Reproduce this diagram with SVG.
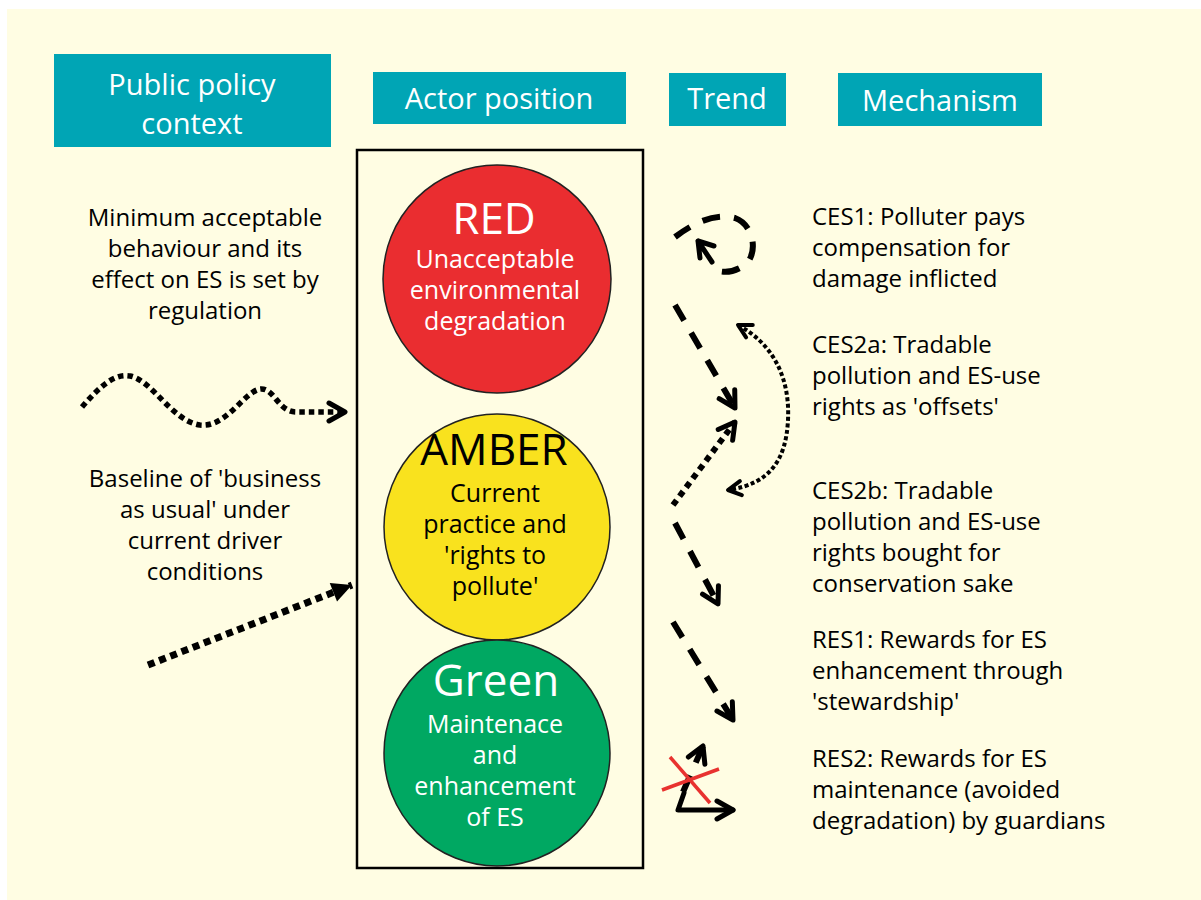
<svg xmlns="http://www.w3.org/2000/svg" width="1201" height="900" viewBox="0 0 1201 900">
<style>
.hdr{fill:#00A5B5}
.ht{font-family:"Open Sans","Liberation Sans",sans-serif;font-size:29px;fill:#fff;text-anchor:middle}
.t{font-family:"Open Sans","Liberation Sans",sans-serif;font-size:24px;fill:#000}
.ct{font-family:"Open Sans","Liberation Sans",sans-serif;font-size:25px;fill:#000;text-anchor:middle}
.c{text-anchor:middle}
.big{font-family:"Open Sans","Liberation Sans",sans-serif;font-size:44px;text-anchor:middle}
.w{fill:#fff}
.circ{stroke:#222;stroke-width:1.5}
.dot{fill:none;stroke:#000;stroke-linecap:butt}
.dash{fill:none;stroke:#000;stroke-width:6;stroke-dasharray:18 14}
.solid{fill:none;stroke:#000;stroke-width:5;stroke-linecap:round;stroke-linejoin:round}
.x{stroke:#E8322F;stroke-width:3.5}
</style>
<defs>
<marker id="chev" viewBox="0 0 24 24" refX="21" refY="12" markerWidth="24" markerHeight="24" markerUnits="userSpaceOnUse" orient="auto">
<path d="M5,3 L21,12 L5,21" fill="none" stroke="#000" stroke-width="5" stroke-linecap="round" stroke-linejoin="round"/>
</marker>
<marker id="chevs" viewBox="0 0 20 20" refX="17" refY="10" markerWidth="20" markerHeight="20" markerUnits="userSpaceOnUse" orient="auto-start-reverse">
<path d="M4,3 L17,10 L4,17" fill="none" stroke="#000" stroke-width="4" stroke-linecap="round" stroke-linejoin="round"/>
</marker>
<marker id="tri" viewBox="0 0 24 24" refX="22" refY="12" markerWidth="24" markerHeight="24" markerUnits="userSpaceOnUse" orient="auto">
<path d="M2,2 L22,12 L2,22 Z" fill="#000"/>
</marker>
</defs>
<rect x="7" y="9" width="1194" height="891" fill="#FFFDE3"/>

<g id="hdr-policy"><rect class="hdr" x="54" y="54" width="277" height="93"/><text class="ht" x="192" y="95">Public policy</text><text class="ht" x="192" y="134">context</text></g>
<g id="hdr-actor"><rect class="hdr" x="373" y="72" width="253" height="52"/><text class="ht" x="499" y="109">Actor position</text></g>
<g id="hdr-trend"><rect class="hdr" x="669" y="73" width="117" height="53"/><text class="ht" x="727" y="109">Trend</text></g>
<g id="hdr-mech"><rect class="hdr" x="838" y="73" width="204" height="53"/><text class="ht" x="940" y="111">Mechanism</text></g>

<g id="actor-box"><rect x="357" y="150" width="286" height="718" fill="none" stroke="#000" stroke-width="2.5"/></g>

<g id="red"><circle class="circ" cx="497" cy="279" r="114" fill="#EA2D30"/>
<text class="big w" x="494" y="234">RED</text>
<text class="ct w" x="495" y="268">Unacceptable</text><text class="ct w" x="495" y="299">environmental</text><text class="ct w" x="495" y="330">degradation</text></g>
<g id="amber"><circle class="circ" cx="497" cy="527" r="113" fill="#F9E21E"/>
<text class="big" x="494" y="465">AMBER</text>
<text class="ct" x="495" y="502">Current</text><text class="ct" x="495" y="533">practice and</text><text class="ct" x="495" y="564">'rights to</text><text class="ct" x="495" y="595">pollute'</text></g>
<g id="green"><circle class="circ" cx="497" cy="753" r="113" fill="#00A862"/>
<text class="big w" x="496" y="696">Green</text>
<text class="ct w" x="495" y="733">Maintenace</text><text class="ct w" x="495" y="764">and</text><text class="ct w" x="495" y="795">enhancement</text><text class="ct w" x="495" y="826">of ES</text></g>

<g id="policy-min"><text class="t c" x="205" y="226">Minimum acceptable</text><text class="t c" x="205" y="257">behaviour and its</text><text class="t c" x="205" y="288">effect on ES is set by</text><text class="t c" x="205" y="319">regulation</text></g>
<g id="policy-base"><text class="t c" x="205" y="487">Baseline of 'business</text><text class="t c" x="205" y="518">as usual' under</text><text class="t c" x="205" y="549">current driver</text><text class="t c" x="205" y="580">conditions</text></g>

<g id="mech-ces1"><text class="t" x="812" y="225">CES1: Polluter pays</text><text class="t" x="812" y="256">compensation for</text><text class="t" x="812" y="287">damage inflicted</text></g>
<g id="mech-ces2a"><text class="t" x="812" y="353">CES2a: Tradable</text><text class="t" x="812" y="384">pollution and ES-use</text><text class="t" x="812" y="415">rights as 'offsets'</text></g>
<g id="mech-ces2b"><text class="t" x="812" y="499">CES2b: Tradable</text><text class="t" x="812" y="530">pollution and ES-use</text><text class="t" x="812" y="561">rights bought for</text><text class="t" x="812" y="592">conservation sake</text></g>
<g id="mech-res1"><text class="t" x="812" y="648">RES1: Rewards for ES</text><text class="t" x="812" y="679">enhancement through</text><text class="t" x="812" y="710">'stewardship'</text></g>
<g id="mech-res2"><text class="t" x="812" y="767">RES2: Rewards for ES</text><text class="t" x="812" y="798">maintenance (avoided</text><text class="t" x="812" y="829">degradation) by guardians</text></g>

<g id="connectors">
<path class="dot" stroke-width="5.5" stroke-dasharray="5.5 4" d="M82,407 C100,386 115,373 130,376 C152,380 172,421 200,425 C226,428 244,392 260,389 C274,387 278,412 296,412 L345,412" marker-end="url(#chev)"/>
<path class="dot" stroke-width="7" stroke-dasharray="7 5" d="M148,665 L352,585" marker-end="url(#tri)"/>

<path class="dash" stroke-width="5.5" stroke-dasharray="17 11" d="M675,237 C695,222 715,213 735,218 C752,224 758,248 748,262 C738,272 722,275 712,268"/>
<path class="solid" stroke-width="5.5" d="M712,262 L698,241 M698,241 L714,246 M698,241 L700,258"/>

<path class="dash" d="M675,305 L735,408" marker-end="url(#chev)"/>
<path class="dot" stroke-width="6" stroke-dasharray="6 5" d="M673,505 L735,422" marker-end="url(#chev)"/>
<path class="dot" stroke-width="4" stroke-dasharray="4 2.5" d="M738,325 C775,345 790,380 788,420 C786,460 770,484 728,490" marker-start="url(#chevs)" marker-end="url(#chevs)"/>
<path class="dash" d="M675,523 L718,604" marker-end="url(#chev)"/>
<path class="dash" d="M673,622 L733,720" marker-end="url(#chev)"/>

<path class="dash" stroke-width="5" stroke-dasharray="12 8" d="M683,792 L703,746" marker-end="url(#chev)"/>
<path class="solid" d="M684,793 L678,810 L733,810" marker-end="url(#chev)"/>
<line class="x" x1="662" y1="790" x2="719" y2="769"/>
<line class="x" x1="670" y1="757" x2="710" y2="803"/>
</g>
</svg>
